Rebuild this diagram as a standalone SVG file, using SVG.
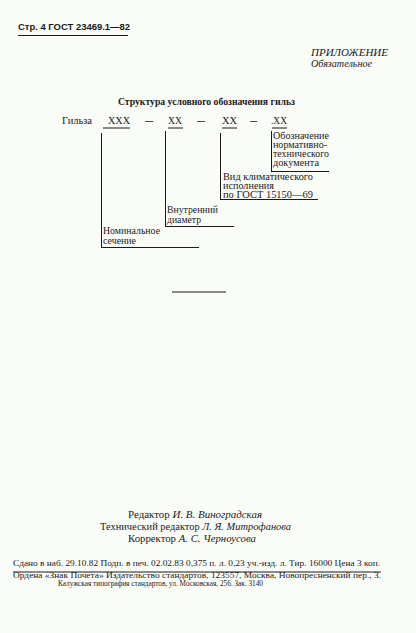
<svg xmlns="http://www.w3.org/2000/svg" width="416" height="633" viewBox="0 0 416 633">
<style>
.s{font-family:"Liberation Serif","DejaVu Serif",serif;fill:#1a1a1a}
.b{font-weight:bold}
.i{font-style:italic}
.h{font-family:"Liberation Sans","DejaVu Sans",sans-serif;font-weight:bold;fill:#1a1a1a}
.ln{stroke:#1a1a1a;stroke-width:1;fill:none}
</style>
<rect width="416" height="633" fill="#fafcf8"/>
<g id="header">
<text class="h" x="18" y="30" font-size="9" textLength="112" lengthAdjust="spacingAndGlyphs">Стр. 4 ГОСТ 23469.1—82</text>
<line class="ln" x1="18" y1="35.5" x2="128" y2="35.5" stroke-width="1.2"/>
<text class="s i" x="311" y="56" font-size="10" textLength="77" lengthAdjust="spacingAndGlyphs">ПРИЛОЖЕНИЕ</text>
<text class="s i" x="311" y="67" font-size="9.5" textLength="61" lengthAdjust="spacingAndGlyphs">Обязательное</text>
</g>
<g id="title">
<text class="s b" x="118" y="105" font-size="10" textLength="177" lengthAdjust="spacingAndGlyphs">Структура условного обозначения гильз</text>
</g>
<g id="code">
<text class="s" x="62" y="124" font-size="10" textLength="30" lengthAdjust="spacingAndGlyphs">Гильза</text>
<text class="s" x="108" y="124" font-size="10" textLength="22" lengthAdjust="spacingAndGlyphs">XXX</text>
<text class="s b" x="145" y="124" font-size="10" textLength="8" lengthAdjust="spacingAndGlyphs">—</text>
<text class="s" x="168" y="124" font-size="10" textLength="14" lengthAdjust="spacingAndGlyphs">XX</text>
<text class="s b" x="197" y="124" font-size="10" textLength="8" lengthAdjust="spacingAndGlyphs">—</text>
<text class="s" x="222" y="124" font-size="10" textLength="15" lengthAdjust="spacingAndGlyphs">XX</text>
<text class="s b" x="250" y="124" font-size="10" textLength="7" lengthAdjust="spacingAndGlyphs">—</text>
<text class="s" x="271" y="124" font-size="10" textLength="16" lengthAdjust="spacingAndGlyphs">.XX</text>
</g>
<g id="connectors">
<line class="ln" x1="103" y1="128" x2="130" y2="128"/>
<line class="ln" x1="168" y1="128" x2="183" y2="128"/>
<line class="ln" x1="222" y1="128" x2="237" y2="128"/>
<line class="ln" x1="272" y1="128" x2="287" y2="128"/>
<line class="ln" x1="101.5" y1="133" x2="101.5" y2="247"/>
<line class="ln" x1="101" y1="247.5" x2="199" y2="247.5"/>
<line class="ln" x1="165.5" y1="131" x2="165.5" y2="226"/>
<line class="ln" x1="165" y1="226.5" x2="234" y2="226.5"/>
<line class="ln" x1="220.5" y1="133" x2="220.5" y2="199"/>
<line class="ln" x1="220" y1="199.5" x2="318" y2="199.5"/>
<line class="ln" x1="271.5" y1="131" x2="271.5" y2="171" stroke-width="1.6"/>
<line class="ln" x1="271" y1="171.5" x2="329" y2="171.5"/>
</g>
<g id="n1">
<text class="s" x="103" y="234" font-size="9.5" textLength="57" lengthAdjust="spacingAndGlyphs">Номинальное</text>
<text class="s" x="103" y="244" font-size="9.5" textLength="33" lengthAdjust="spacingAndGlyphs">сечение</text>
</g>
<g id="n2">
<text class="s" x="167" y="213" font-size="9.5" textLength="51" lengthAdjust="spacingAndGlyphs">Внутренний</text>
<text class="s" x="167" y="223" font-size="9.5" textLength="34" lengthAdjust="spacingAndGlyphs">диаметр</text>
</g>
<g id="n3">
<text class="s" x="223" y="180" font-size="9.5" textLength="90" lengthAdjust="spacingAndGlyphs">Вид климатического</text>
<text class="s" x="223" y="189" font-size="9.5" textLength="51" lengthAdjust="spacingAndGlyphs">исполнения</text>
<text class="s" x="223" y="198" font-size="9.5" textLength="90" lengthAdjust="spacingAndGlyphs">по ГОСТ 15150—69</text>
</g>
<g id="n4">
<text class="s" x="273" y="139" font-size="9.5" textLength="56" lengthAdjust="spacingAndGlyphs">Обозначение</text>
<text class="s" x="273" y="148" font-size="9.5" textLength="54" lengthAdjust="spacingAndGlyphs">нормативно-</text>
<text class="s" x="273" y="157" font-size="9.5" textLength="56" lengthAdjust="spacingAndGlyphs">технического</text>
<text class="s" x="273" y="166" font-size="9.5" textLength="46" lengthAdjust="spacingAndGlyphs">документа</text>
</g>
<g id="separator">
<line class="ln" x1="172" y1="292" x2="226" y2="292" stroke-width="2"/>
</g>
<g id="credits">
<text class="s" x="128" y="518" font-size="10.5" textLength="134" lengthAdjust="spacingAndGlyphs"><tspan>Редактор </tspan><tspan class="i">И. В. Виноградская</tspan></text>
<text class="s" x="100" y="530" font-size="10.5" textLength="191" lengthAdjust="spacingAndGlyphs"><tspan>Технический редактор </tspan><tspan class="i">Л. Я. Митрофанова</tspan></text>
<text class="s" x="128" y="542" font-size="10.5" textLength="128" lengthAdjust="spacingAndGlyphs"><tspan>Корректор </tspan><tspan class="i">А. С. Черноусова</tspan></text>
</g>
<g id="imprint">
<text class="s" x="13" y="566" font-size="7.4" textLength="367" lengthAdjust="spacingAndGlyphs">Сдано в наб. 29.10.82 Подп. в печ. 02.02.83 0,375 п. л. 0,23 уч.-изд. л. Тир. 16000 Цена 3 коп.</text>
<line class="ln" x1="13" y1="572" x2="381" y2="572" stroke-width="1.2"/>
<text class="s" x="13" y="578" font-size="7.4" textLength="368" lengthAdjust="spacingAndGlyphs">Ордена «Знак Почета» Издательство стандартов, 123557, Москва, Новопресненский пер., 3.</text>
<text class="s" x="58" y="586" font-size="7.4" textLength="205" lengthAdjust="spacingAndGlyphs">Калужская типография стандартов, ул. Московская, 256. Зак. 3140</text>
</g>
</svg>
